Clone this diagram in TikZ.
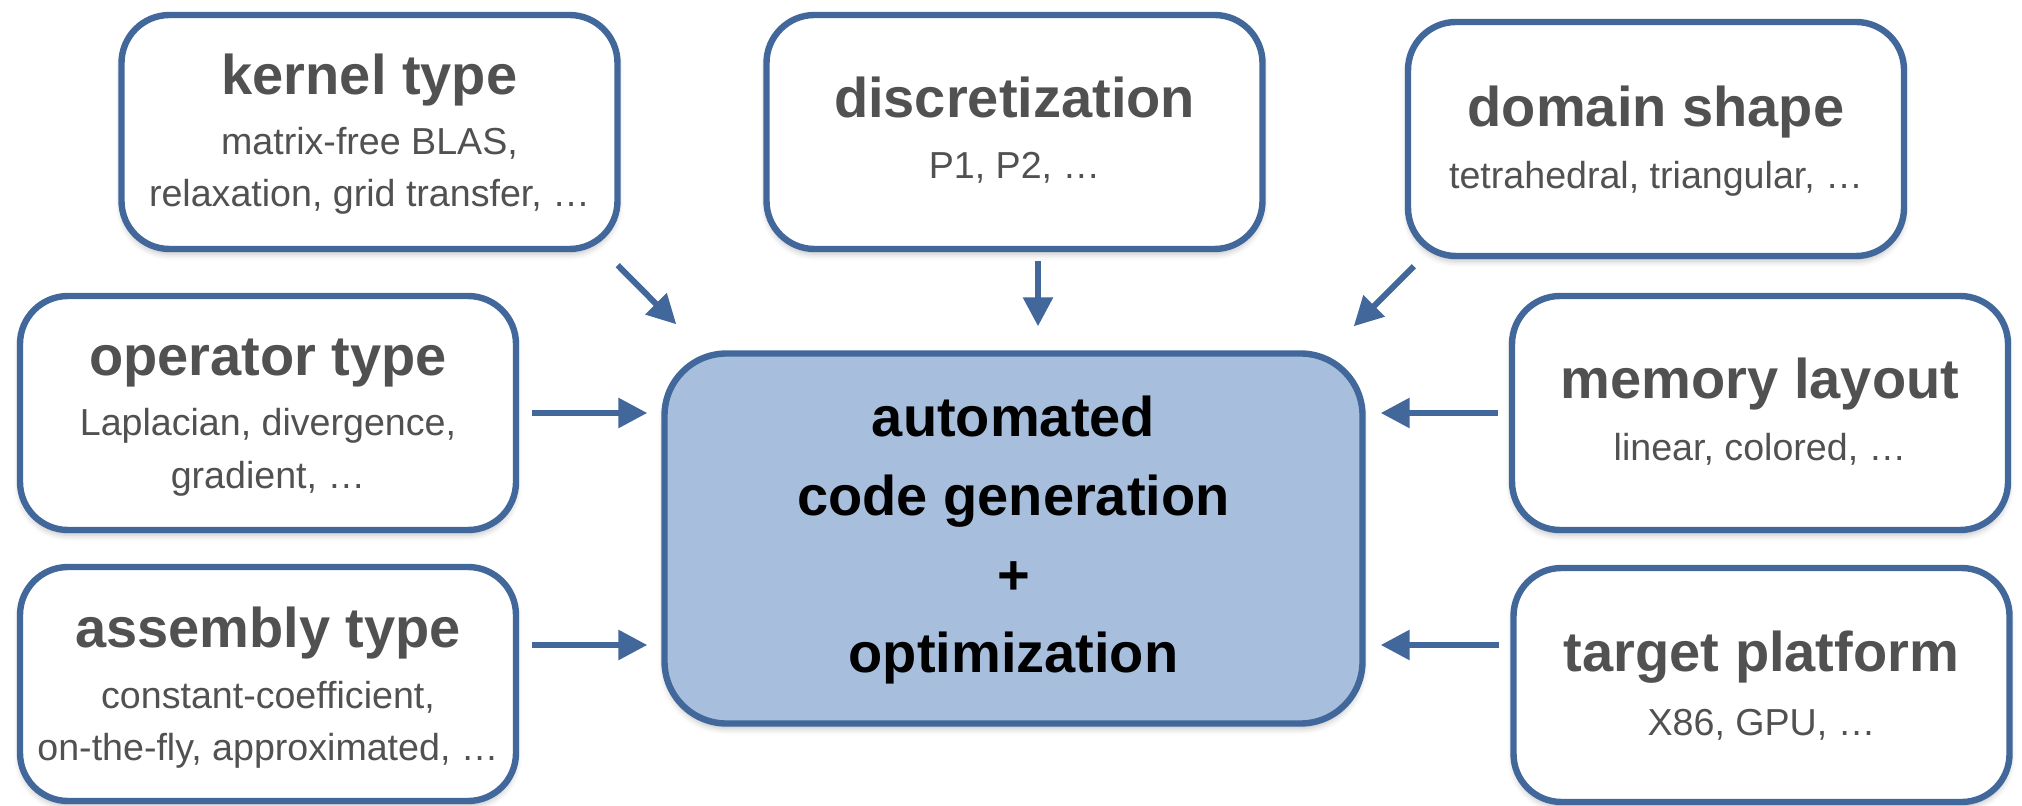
\documentclass[tikz,border=0pt]{standalone}
\usepackage{fontspec}
\setmainfont{Liberation Sans}
\usetikzlibrary{arrows.meta,shadows.blur,calc}
\definecolor{bblue}{HTML}{41679B}
\definecolor{cfill}{HTML}{A7BFDD}
\definecolor{tgray}{HTML}{515151}
\begin{document}
\begin{tikzpicture}[x=0.5pt,y=-0.5pt,
  shad/.style={blur shadow={shadow xshift=0pt, shadow yshift=-2.5pt, shadow blur radius=3pt, shadow opacity=25}},
  box/.style={draw=bblue, line width=3.2pt, fill=white, rounded corners=24pt,
    minimum width=248pt, minimum height=117pt, inner sep=0pt, shad},
  mainbox/.style={draw=bblue, line width=3.2pt, fill=cfill, rounded corners=31pt,
    minimum width=349pt, minimum height=185pt, inner sep=0pt, shad},
  ttl/.style={font=\bfseries\fontsize{28}{30}\selectfont, text=tgray, anchor=base, inner sep=0pt},
  sub/.style={font=\fontsize{18.8}{21}\selectfont, text=tgray, anchor=base, inner sep=0pt},
  ctr/.style={font=\bfseries\fontsize{28}{30}\selectfont, text=black, anchor=base, inner sep=0pt},
  arr/.style={draw=bblue, line width=3pt, -{Triangle[length=14.5pt,width=14.5pt]}}
]
\useasboundingbox (0,0) rectangle (2022,806);

% boxes
\node[box] (kernel) at (369.5,132) {};
\node[box] (disc) at (1014.5,132) {};
\node[box] (domain) at (1656,139) {};
\node[box] (op) at (268,413) {};
\node[box] (asm) at (268,684) {};
\node[box] (mem) at (1760,413) {};
\node[box] (tgt) at (1761.5,685) {};
\node[mainbox] (center) at (1013.5,538.5) {};

% texts
\node[ttl] (kernelT) at (369.5,95) {kernel type};
\node[sub] (kernelS1) at (369.5,155) {matrix-free BLAS,};
\node[sub] (kernelS2) at (369.5,207) {relaxation, grid transfer, \dots};

\node[ttl] (discT) at (1014.5,118) {discretization};
\node[sub] (discS) at (1014.5,179) {P1, P2, \dots};

\node[ttl] (domainT) at (1656,127) {domain shape};
\node[sub] (domainS) at (1656,189) {tetrahedral, triangular, \dots};

\node[ttl] (opT) at (268,376) {operator type};
\node[sub] (opS1) at (268,436) {Laplacian, divergence,};
\node[sub] (opS2) at (268,488) {gradient, \dots};

\node[ttl] (asmT) at (268,647) {assembly type};
\node[sub] (asmS1) at (268,708) {constant-coefficient,};
\node[sub] (asmS2) at (268,760) {on-the-fly, approximated, \dots};

\node[ttl] (memT) at (1760,399) {memory layout};
\node[sub] (memS) at (1760,461) {linear, colored, \dots};

\node[ttl] (tgtT) at (1761.5,671) {target platform};
\node[sub] (tgtS) at (1761.5,735) {X86, GPU, \dots};

\node[ctr] (c1) at (1013.5,437) {automated};
\node[ctr] (c2) at (1013.5,516) {code generation};
\node[ctr] (c3) at (1013.5,594) {+};
\node[ctr] (c4) at (1013.5,672) {optimization};

% connectors
\coordinate (ya) at (0,645);
\draw[arr] ($(kernel.south east)+(-3,13)$) -- ($(center.north west)+(15,-26)$);
\draw[arr] ($(disc.south)+(23.5,9)$) -- ($(center.north)+(24.5,-24)$);
\draw[arr] ($(domain.south west)+(9,7)$) -- ($(center.north east)+(-12,-24)$);
\draw[arr, shorten <=6.5pt, shorten >=7pt] (op.east) -- (op.east -| center.west);
\draw[arr, shorten <=6.5pt, shorten >=7pt] (asm.east |- ya) -- (center.west |- ya);
\draw[arr, shorten <=5.5pt, shorten >=7.5pt] (mem.west) -- (mem.west -| center.east);
\draw[arr, shorten <=5.5pt, shorten >=7.5pt] (tgt.west |- ya) -- (center.east |- ya);
\end{tikzpicture}
\end{document}
